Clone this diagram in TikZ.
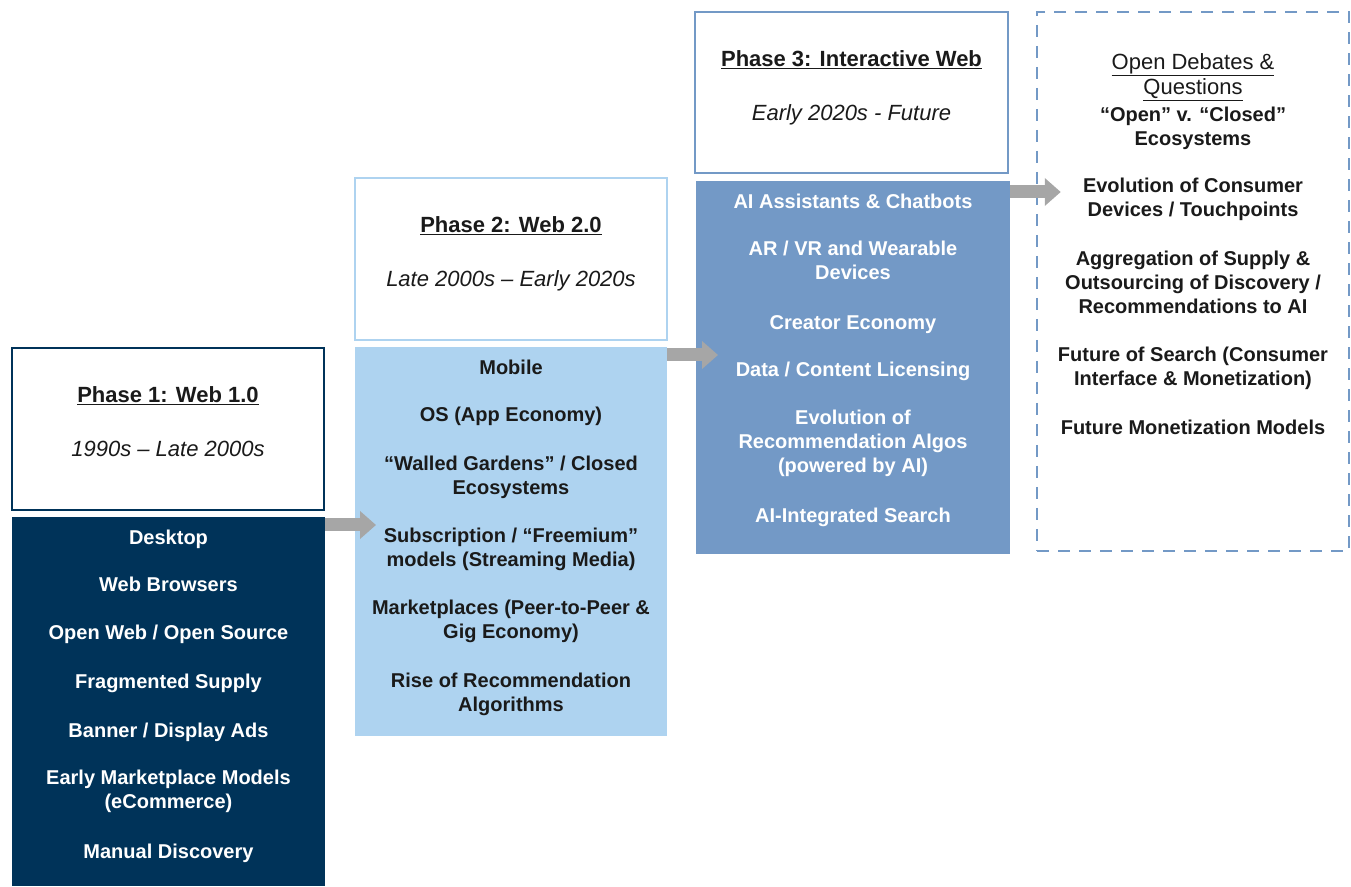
\documentclass[tikz,border=0pt]{standalone}
\usepackage{fontspec}
\setmainfont{Liberation Sans}
\usetikzlibrary{arrows.meta,calc}
\definecolor{navy}{HTML}{003359}
\definecolor{lightblue}{HTML}{AED3F0}
\definecolor{midblue}{HTML}{7399C6}
\definecolor{arrowgray}{HTML}{A6A6A6}
\definecolor{ink}{HTML}{1A1A1A}
\newcommand\bodyfont{\fontsize{20}{24}\selectfont\bfseries}
\newcommand\titlefont{\fontsize{22}{26}\selectfont\bfseries}
\newcommand\datefont{\fontsize{22}{26}\selectfont\itshape}
\tikzset{
  x=1pt, y=1pt,
  headbox/.style={draw=#1, line width=2.5pt, fill=white, inner sep=0, outer sep=0},
  bodybox/.style={fill=#1, draw=none, inner sep=0, outer sep=0},
  item/.style={font=\bodyfont, align=center, inner sep=0,
    execute at begin node=\strut, execute at end node=\strut},
  titletext/.style={font=\titlefont, text=ink, inner sep=0, anchor=base},
  datetext/.style={font=\datefont, text=ink, inner sep=0, anchor=base},
  blockarrow/.style={draw=arrowgray, line width=13pt, line cap=butt,
    -{Triangle[length=16pt,width=27pt]}},
}
\begin{document}
\begin{tikzpicture}
\useasboundingbox (0,0) rectangle (1351,886);

% Phase 1
\node[headbox=navy, minimum width=312, minimum height=162] (p1head) at (168,457) {};
\node[bodybox=navy, minimum width=313, minimum height=369] (p1body) at (168.5,184.5) {};
% Phase 2
\node[headbox=lightblue, minimum width=312, minimum height=162] (p2head) at (511,627) {};
\node[bodybox=lightblue, minimum width=312, minimum height=389] (p2body) at (511,344.5) {};
% Phase 3
\node[headbox=midblue, minimum width=313, minimum height=161] (p3head) at (851.5,793.5) {};
\node[bodybox=midblue, minimum width=314, minimum height=373] (p3body) at (853,518.5) {};
% Open debates
\node[draw=midblue, line width=2.5pt, dash pattern=on 12pt off 9pt, inner sep=0,
      minimum width=312, minimum height=539] (debates) at (1193,604.5) {};

% Arrows
\coordinate (a1s) at ($(p1body.north east)+(0,-8)$);
\coordinate (a1e) at ($(p2body.west |- a1s)+(21,0)$);
\draw[blockarrow] (a1s) -- (a1e);
\coordinate (a2s) at ($(p2body.north east)+(0,-8)$);
\coordinate (a2e) at ($(p3body.west |- a2s)+(22,0)$);
\draw[blockarrow] (a2s) -- (a2e);
\coordinate (a3s) at ($(p3body.north east)+(0,-11)$);
\coordinate (a3e) at ($(debates.west |- a3s)+(25,0)$);
\draw[blockarrow] (a3s) -- (a3e);

% Header texts
\node[titletext] (p1title) at (168,483) {\underline{Phase 1: Web 1.0}};
\node[datetext] (p1date) at (168,429) {1990s – Late 2000s};
\node[titletext] (p2title) at (511,653) {\underline{Phase 2: Web 2.0}};
\node[datetext] (p2date) at (511,599) {Late 2000s – Early 2020s};
\node[titletext] (p3title) at (851.5,819) {\underline{Phase 3: Interactive Web}};
\node[datetext] (p3date) at (851.5,765) {Early 2020s - Future};

% Phase 1 items
\begin{scope}[every node/.append style={item, text=white}]
\node (i11) at (168.5,346) {Desktop};
\node (i12) at (168.5,299) {Web Browsers};
\node (i13) at (168.5,251) {Open Web / Open Source};
\node (i14) at (168.5,202) {Fragmented Supply};
\node (i15) at (168.5,153) {Banner / Display Ads};
\node (i16) at (168.5,93) {Early Marketplace Models\\(eCommerce)};
\node (i17) at (168.5,32) {Manual Discovery};
\end{scope}

% Phase 2 items
\begin{scope}[every node/.append style={item, text=ink}]
\node (i21) at (511,516) {Mobile};
\node (i22) at (511,469) {OS (App Economy)};
\node (i23) at (511,407) {“Walled Gardens” / Closed\\Ecosystems};
\node (i24) at (511,335) {Subscription / “Freemium”\\models (Streaming Media)};
\node (i25) at (511,263) {Marketplaces (Peer-to-Peer \&\\Gig Economy)};
\node (i26) at (511,190) {Rise of Recommendation\\Algorithms};
\end{scope}

% Phase 3 items
\begin{scope}[every node/.append style={item, text=white}]
\node (i31) at (853,682) {AI Assistants \& Chatbots};
\node (i32) at (853,622.5) {AR / VR and Wearable\\Devices};
\node (i33) at (853,561) {Creator Economy};
\node (i34) at (853,514) {Data / Content Licensing};
\node (i35) at (853,441) {Evolution of\\Recommendation Algos\\(powered by AI)};
\node (i36) at (853,368) {AI-Integrated Search};
\end{scope}

% Open debates
\node[font=\fontsize{22}{25}\selectfont, text=ink, align=center, inner sep=0,
      execute at begin node=\strut, execute at end node=\strut] (dtitle) at (1193,808.5)
      {\underline{Open Debates \&}\\\underline{Questions}};
\begin{scope}[every node/.append style={item, text=ink}]
\node (d1) at (1193,756) {“Open” v. “Closed”\\Ecosystems};
\node (d2) at (1193,685) {Evolution of Consumer\\Devices / Touchpoints};
\node (d3) at (1193,600.5) {Aggregation of Supply \&\\Outsourcing of Discovery /\\Recommendations to AI};
\node (d4) at (1193,516) {Future of Search (Consumer\\Interface \& Monetization)};
\node (d5) at (1193,456) {Future Monetization Models};
\end{scope}
\end{tikzpicture}
\end{document}
